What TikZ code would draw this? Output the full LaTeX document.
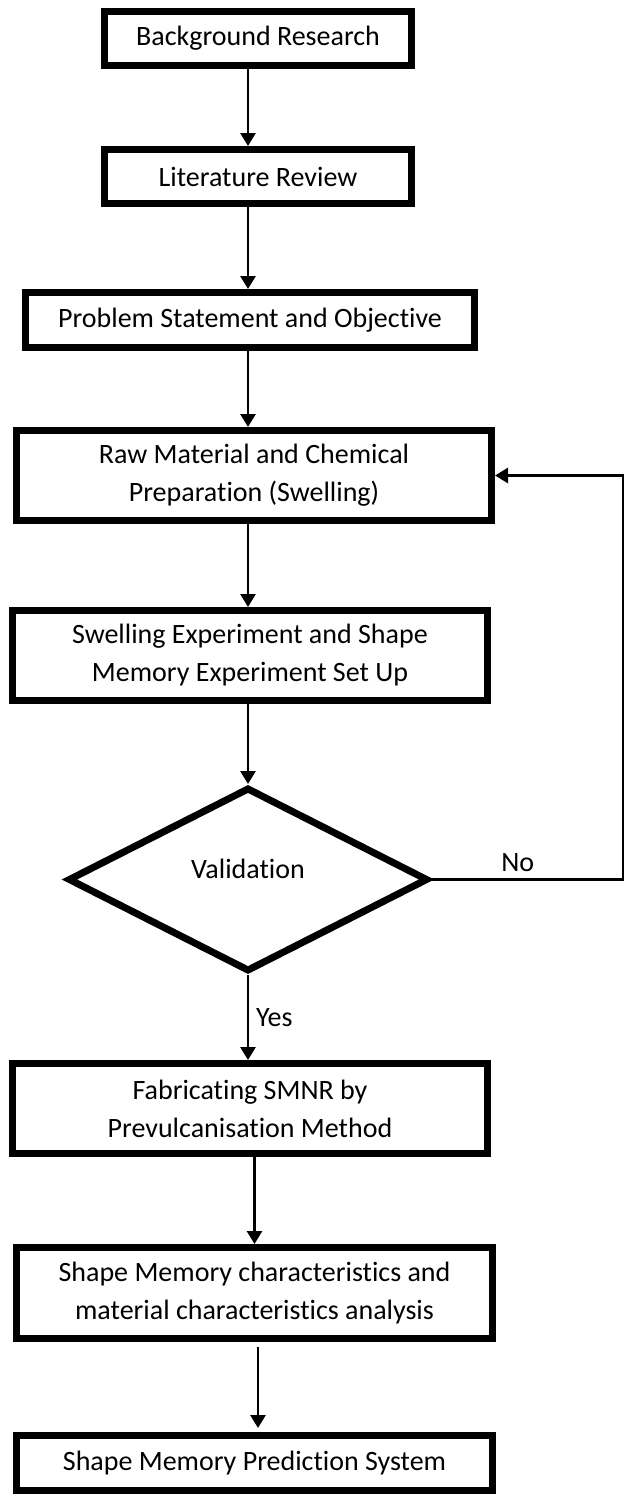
\documentclass[tikz,border=0pt]{standalone}
\usepackage{fontspec}
\setmainfont{Carlito}[Ligatures=NoCommon]
\usepackage{tikz}
\usetikzlibrary{arrows.meta,shapes.geometric}
\newcommand{\nolig}{\kern0pt}

\begin{document}
\begin{tikzpicture}[x=0.5pt, y=-0.5pt, font=\fontsize{14}{19}\selectfont, >={Triangle[length=6.5pt,width=7.5pt]},
  box/.style = {draw, line width=3.5pt, align=center, inner sep=0pt},
  dec/.style = {draw, diamond, line width=3.5pt, inner sep=0pt, minimum width=180pt, minimum height=92pt},
  flow/.style = {->, line width=1.4pt}]
\useasboundingbox (0,0) rectangle (626,1500);
\node[box, minimum width=153.5pt, minimum height=27pt] (b1) at (258,38.5) {Background Research};
\node[box, minimum width=153.5pt, minimum height=27pt] (b2) at (258,176.5) {Literature Review};
\node[box, minimum width=224.5pt, minimum height=27.5pt] (b3) at (250,320) {Problem Statement and Object\nolig ive};
\node[box, minimum width=237.5pt, minimum height=45pt] (b4) at (254,475.5) {Raw Material and Chemical\\Preparat\nolig ion (Swelling)};
\node[box, minimum width=237.5pt, minimum height=45pt] (b5) at (250,655.5) {Swelling Experiment and Shape\\Memory Experiment Set Up};
\node[dec, label={[yshift=5.5pt]center:Validat\nolig ion}] (val) at (248,879.5) {};
\node[box, minimum width=237.5pt, minimum height=45pt] (b6) at (250,1108.5) {Fabricat\nolig ing SMNR by\\Prevulcanisat\nolig ion Method};
\node[box, minimum width=238pt, minimum height=45.5pt] (b7) at (254.5,1293) {Shape Memory characterist\nolig ics and\\material characterist\nolig ics analysis};
\node[box, minimum width=238pt, minimum height=27.5pt] (b8) at (254.5,1463) {Shape Memory Predict\nolig ion System};
\coordinate (fb) at (623,879.5);
\draw[flow] (b1.south -| val) -- (b2.north -| val);
\draw[flow] (b2.south -| val) -- (b3.north -| val);
\draw[flow] (b3.south -| val) -- (b4.north -| val);
\draw[flow] (b4.south -| val) -- (b5.north -| val);
\draw[flow] (b5.south -| val) -- (val.north);
\draw[flow] (val.south) -- node[right] {Yes} (b6.north -| val);
\draw[flow] (b6.south -| b7) -- (b7.north);
\draw[flow, shorten <=2.5pt, shorten >=2pt] ([xshift=1.75pt]b7.south) -- ([xshift=1.75pt]b8.north);
\draw[flow] (val.east) -- node[above,pos=0.45] {No} (fb) |- (b4.east);
\end{tikzpicture}
\end{document}
